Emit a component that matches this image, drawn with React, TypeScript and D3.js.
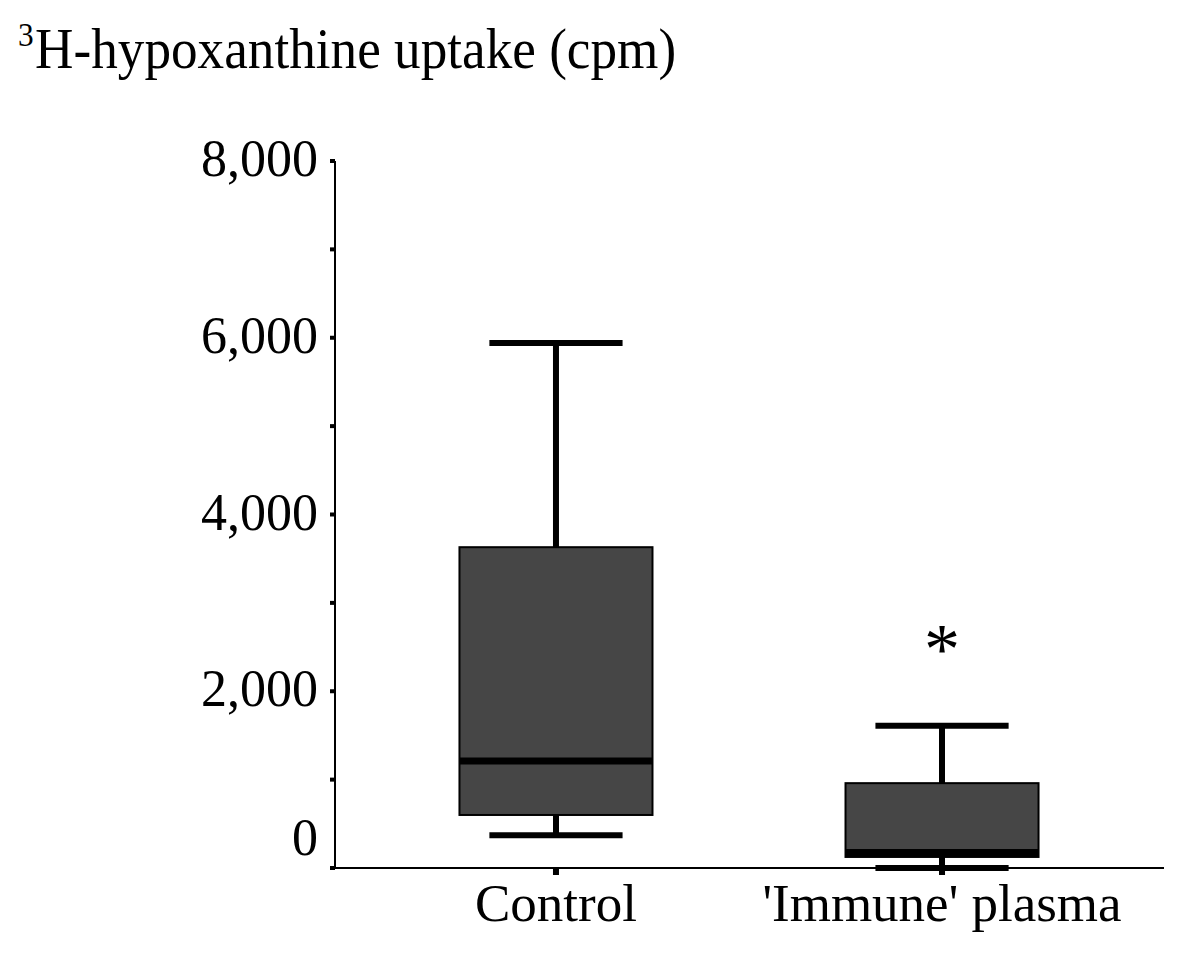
import React from 'react';
import * as d3 from 'd3';

const categories = ['Control', "'Immune' plasma"];
const whiskerLow = [370, 0];
const q1 = [600, 125];
const median = [1210, 175];
const q3 = [3630, 960];
const whiskerHigh = [5940, 1610];
const significant = [false, true];
const yTicks = [0, 1000, 2000, 3000, 4000, 5000, 6000, 7000, 8000];
const yLabels = [0, 2000, 4000, 6000, 8000];

const width = 1200;
const height = 955;
const font = '"Liberation Serif", "Times New Roman", serif';

const App = () => {
  const y = d3.scaleLinear().domain([0, 8000]).range([868, 161]);
  const x = d3
    .scaleBand()
    .domain(categories)
    .range([334, 1164])
    .paddingInner(0.5)
    .paddingOuter(0.325);
  const bw = x.bandwidth();
  const capW = bw * 0.69;
  const fmt = d3.format(',');

  return (
    <svg
      width={width}
      height={height}
      style={{ position: 'absolute', left: 0, top: 0, background: '#fff' }}
      fontFamily={font}
    >
      {/* title */}
      <g transform="translate(18,0) scale(0.95,1)">
        <text x={0} y={46} fontSize={33} fill="#000">3</text>
        <text x={18} y={68} fontSize={56} fill="#000">H-hypoxanthine uptake (cpm)</text>
      </g>

      {/* y axis */}
      <line x1={335} x2={335} y1={y(8000)} y2={y(0)} stroke="#000" strokeWidth={2} />
      {yTicks.map((t) => (
        <rect key={t} x={330} y={y(t) - 2} width={5} height={4} fill="#000" />
      ))}
      {yLabels.map((t) => (
        <text
          key={t}
          x={318}
          y={y(t) + (t === 0 ? -13 : 15)}
          textAnchor="end"
          fontSize={52}
          fill="#000"
        >
          {fmt(t)}
        </text>
      ))}

      {/* x axis */}
      <line x1={334} x2={1164} y1={y(0)} y2={y(0)} stroke="#000" strokeWidth={2} />
      {categories.map((c) => (
        <g key={c}>
          <rect x={(x(c) as number) + bw / 2 - 3} y={y(0)} width={6} height={7} fill="#000" />
          <text
            x={(x(c) as number) + bw / 2}
            y={921}
            textAnchor="middle"
            fontSize={53}
            fill="#000"
          >
            {c}
          </text>
        </g>
      ))}

      {/* boxes */}
      {categories.map((c, i) => {
        const x0 = x(c) as number;
        const cx = x0 + bw / 2;
        return (
          <g key={c}>
            <line x1={cx} x2={cx} y1={y(whiskerHigh[i])} y2={y(q3[i])} stroke="#000" strokeWidth={6} />
            <line x1={cx} x2={cx} y1={y(q1[i])} y2={y(whiskerLow[i])} stroke="#000" strokeWidth={6} />
            <line x1={cx - capW / 2} x2={cx + capW / 2} y1={y(whiskerHigh[i])} y2={y(whiskerHigh[i])} stroke="#000" strokeWidth={6} />
            <line x1={cx - capW / 2} x2={cx + capW / 2} y1={y(whiskerLow[i])} y2={y(whiskerLow[i])} stroke="#000" strokeWidth={6} />
            <rect
              x={x0}
              y={y(q3[i])}
              width={bw}
              height={y(q1[i]) - y(q3[i])}
              fill="#464646"
              stroke="#000"
              strokeWidth={2}
            />
            <line x1={x0} x2={x0 + bw} y1={y(median[i])} y2={y(median[i])} stroke="#000" strokeWidth={7} />
            {significant[i] && (
              <text x={cx} y={673} textAnchor="middle" fontSize={72} fill="#000">*</text>
            )}
          </g>
        );
      })}
    </svg>
  );
};

export default App;
